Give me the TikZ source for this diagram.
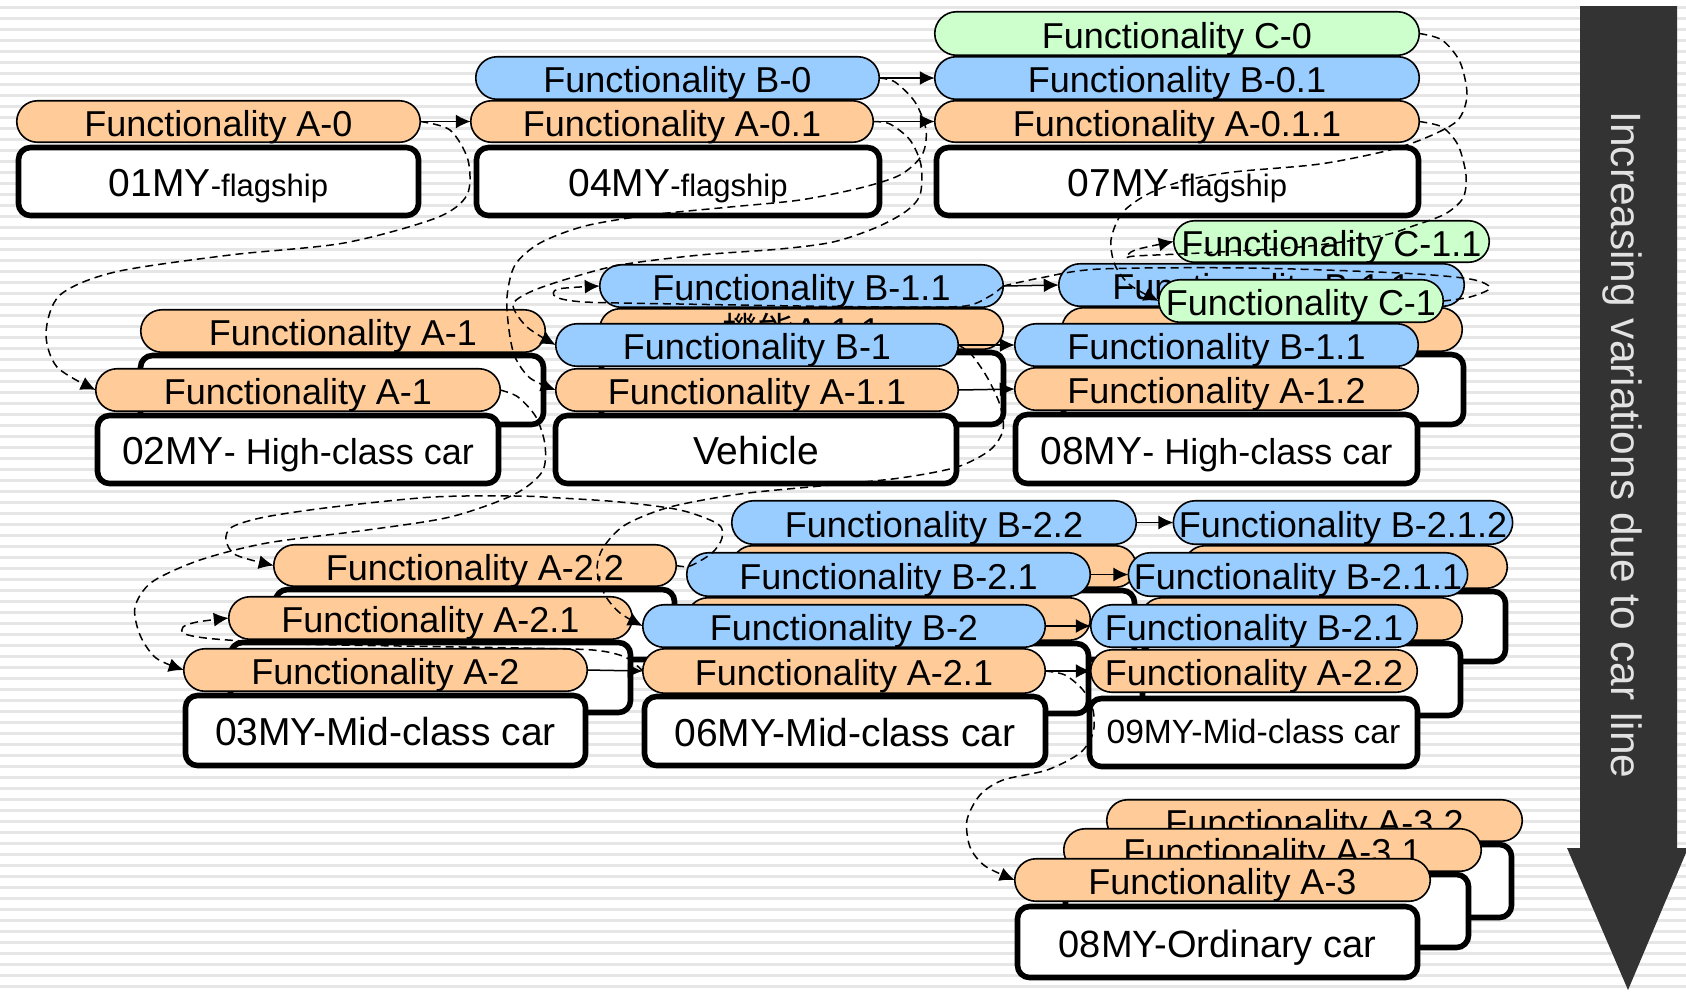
\documentclass[tikz,border=0pt]{standalone}
\usepackage{fontspec}
\setmainfont{Liberation Sans}
\newfontfamily\cjkfont{Noto Sans CJK JP}
\usetikzlibrary{shapes.misc,arrows.meta}

\definecolor{fa}{HTML}{FFCC99}
\definecolor{fb}{HTML}{99CCFF}
\definecolor{fc}{HTML}{CCFFCC}
\definecolor{stripe}{HTML}{E6E6E6}
\definecolor{trendgray}{HTML}{333333}
\definecolor{trendtext}{HTML}{E2E2E2}

\newcommand{\yeartxt}{\fontsize{19.5}{22}\selectfont}
\newcommand{\tagtxt}{\fontsize{15.5}{18}\selectfont}
\newcommand{\classtxt}{\fontsize{18}{20}\selectfont}

\tikzset{
  pillbox/.style={rounded rectangle, draw=black, line width=0.8pt, inner sep=0pt, outer sep=0pt,
    font=\fontsize{18}{20}\selectfont, text height=14.5pt, text depth=0pt},
  carbox/.style={rectangle, rounded corners=6pt, draw=black, line width=2.8pt, fill=white,
    inner sep=0pt, outer sep=0pt, font=\yeartxt, text height=15pt, text depth=0pt},
  flow/.style={line width=0.75pt, -{Latex[length=7.5pt,width=7pt]}},
  trace/.style={line width=0.75pt, dash pattern=on 4pt off 2.5pt},
  tracetip/.style={trace, -{Latex[length=7.5pt,width=7pt]}},
}

% functionality pill: name, colour, x1, y1, x2, y2, text
\newcommand{\fpill}[7]{\node[pillbox, fill=#2, minimum width={(#5-#3-1.5)*0.5pt},
  minimum height={(#6-#4-1.5)*0.5pt}] (#1) at ({(#3+#5)/2},{(#4+#6)/2}) {#7};}
% car model box: [options], name, x1, y1, x2, y2, text
\newcommand{\carbody}[7][]{\node[carbox, #1, minimum width={(#5-#3-5)*0.5pt},
  minimum height={(#6-#4-5)*0.5pt}] (#2) at ({(#3+#5)/2},{(#4+#6)/2}) {#7};}

\begin{document}
\begin{tikzpicture}[x=0.5pt, y=-0.5pt]
\useasboundingbox (0,0) rectangle (1686,993);
\fill[white] (0,0) rectangle (1686,993);
\foreach \k in {0,...,89} {\fill[stripe] (0,{6+11*\k}) rectangle (1686,{9+11*\k});}

% trend arrow
\fill[trendgray] (1580,6) -- (1677,6) -- (1677,848) -- (1688,848) -- (1628,990)
  -- (1567,848) -- (1580,848) -- cycle;
\node[rotate=-90, text=trendtext, font=\fontsize{21.2}{24}\selectfont, inner sep=0pt]
  (trend) at (1622,445) {Increasing variations due to car line};

% 01MY
\fpill{A0}{fa}{16}{100}{421}{143}{Functionality A-0}
\carbody{M01}{16}{145}{421}{218}{01MY{\tagtxt -flagship}}

% 04MY
\fpill{B0}{fb}{475}{56}{880}{100}{Functionality B-0}
\fpill{A01}{fa}{470}{100}{874}{143}{Functionality A-0.1}
\carbody{M04}{474}{145}{882}{218}{04MY{\tagtxt -flagship}}

% 07MY
\fpill{C0}{fc}{934}{11}{1420}{56}{Functionality C-0}
\fpill{B01}{fb}{934}{56}{1420}{100}{Functionality B-0.1}
\fpill{A011}{fa}{934}{100}{1420}{143}{Functionality A-0.1.1}
\carbody{M07}{934}{145}{1421}{218}{07MY{\tagtxt -flagship}}

% 02MY
\fpill{A1b}{fa}{140}{309}{546}{353}{Functionality A-1}
\carbody{M02b}{138}{353}{546}{427}{}
\fpill{A1f}{fa}{95}{368}{501}{412}{Functionality A-1}
\carbody{M02}{95}{413}{501}{486}{02MY{\classtxt - High-class car}}

% Vehicle
\fpill{B11v}{fb}{599}{264}{1004}{308}{Functionality B-1.1}
\fpill{A11b}{fa}{599}{308}{1004}{350}{{\cjkfont 機能}A-1.1}
\carbody{Vb}{599}{350}{1006}{427}{}
\fpill{B1v}{fb}{555}{323}{959}{367}{Functionality B-1}
\fpill{A11v}{fa}{555}{368}{959}{412}{Functionality A-1.1}
\carbody{V}{553}{413}{959}{486}{Vehicle}

% 08MY high-class
\fpill{B11b}{fb}{1058}{263}{1465}{307}{Functionality B-1.1}
\fpill{A12b}{fa}{1061}{307}{1463}{352}{}
\carbody{M08b}{1061}{352}{1466}{427}{}
\fpill{C11}{fc}{1173}{220}{1490}{263}{Functionality C-1.1}
\fpill{C1}{fc}{1158}{279}{1444}{323}{Functionality C-1}
\fpill{B11f}{fb}{1014}{323}{1419}{367}{Functionality B-1.1}
\fpill{A12f}{fa}{1014}{367}{1419}{411}{Functionality A-1.2}
\carbody{M08}{1013}{412}{1420}{486}{08MY{\classtxt - High-class car}}

% 03MY
\fpill{A22c}{fa}{273}{544}{677}{587}{Functionality A-2.2}
\carbody{M03c}{273}{587}{677}{662}{}
\fpill{A21c}{fa}{228}{596}{633}{640}{Functionality A-2.1}
\carbody{M03b}{228}{640}{633}{715}{}
\fpill{A2c}{fa}{183}{648}{588}{692}{Functionality A-2}
\carbody{M03}{183}{693}{588}{768}{03MY-Mid-class car}

% 06MY
\fpill{B22s}{fb}{731}{500}{1137}{545}{Functionality B-2.2}
\fpill{A2xs}{fa}{731}{545}{1137}{588}{}
\carbody{M06c}{731}{588}{1137}{662}{}
\fpill{B21s}{fb}{686}{552}{1091}{597}{Functionality B-2.1}
\fpill{A2ys}{fa}{686}{597}{1091}{641}{}
\carbody{M06b}{686}{641}{1091}{716}{}
\fpill{B2s}{fb}{642}{604}{1046}{648}{Functionality B-2}
\fpill{A21s}{fa}{642}{648}{1046}{694}{Functionality A-2.1}
\carbody{M06}{642}{694}{1048}{768}{06MY-Mid-class car}

% 09MY
\fpill{B212}{fb}{1178}{500}{1508}{545}{Functionality B-2.1.2}
\fpill{A2xn}{fa}{1183}{545}{1508}{589}{}
\carbody{M09c}{1183}{589}{1508}{664}{}
\fpill{B211}{fb}{1133}{552}{1463}{597}{Functionality B-2.1.1}
\fpill{A2yn}{fa}{1140}{597}{1463}{641}{}
\carbody{M09b}{1140}{641}{1463}{718}{}
\fpill{B21n}{fb}{1090}{604}{1418}{648}{Functionality B-2.1}
\fpill{A22n}{fa}{1090}{649}{1418}{693}{Functionality A-2.2}
\carbody[font=\fontsize{16.8}{19}\selectfont, text height=11pt]{M09}{1087}{696}{1420}{769}{09MY-Mid-class car}

% 08MY ordinary
\fpill{A32}{fa}{1106}{799}{1523}{842}{Functionality A-3.2}
\carbody{M08oc}{1106}{842}{1514}{920}{}
\fpill{A31}{fa}{1063}{828}{1482}{872}{Functionality A-3.1}
\carbody{M08ob}{1063}{872}{1471}{950}{}
\fpill{A3}{fa}{1014}{858}{1431}{902}{Functionality A-3}
\carbody[font=\fontsize{19}{22}\selectfont]{M08o}{1015}{904}{1420}{980}{08MY-Ordinary car}

% direct succession arrows
\draw[flow] (A0.east) -- (A01.west);
\draw[flow] (B0.east) -- (B01.west);
\draw[flow] (A01.east) -- (A011.west);
\draw[flow] (B11v.east) -- (B11b.west);
\draw[flow] (B1v.east) -- (B11f.west);
\draw[flow] (A11v.east) -- (A12f.west);
\draw[flow] (A2c.east) -- (A21s.west);
\draw[flow] (B2s.east) -- (B21n.west);
\draw[flow] (A21s.east) -- (A22n.west);
\draw[flow] (B21s.east) -- (B211.west);
\draw[flow] (B22s.east) -- (B212.west);

% derivation traces
\draw[tracetip] plot[smooth] coordinates {(A0.east) (450,130) (468,160) (467,195) (436,218)
  (344,243) (230,255) (115,272) (60,295) (46,333) (57,367) (A1f.west)};
\draw[tracetip] plot[smooth] coordinates {(B0.east) (895,82) (915,102) (926,130) (922,155)
  (900,175) (860,188) (800,200) (730,207) (650,215) (585,226) (540,243) (515,265) (507,297)
  (509,330) (515,357) (530,378) (A11v.west)};
\draw[tracetip] plot[smooth] coordinates {(A01.east) (890,124) (910,140) (921,165) (920,195)
  (905,212) (875,228) (833,242) (780,249) (700,255) (620,265) (567,279) (530,292) (513,305)
  (527,327) (B1v.west)};
\draw[tracetip] plot[smooth] coordinates {(B11v.east) (990,296) (965,306) (900,307)
  (800,306) (680,304) (585,302) (556,297) (558,289) (B11v.west)};
\draw[trace] plot[smooth] coordinates {(B11v.east) (1040,278) (1100,269) (1250,268)
  (1400,273) (1470,279) (1490,288) (1470,297) (C1.east)};
\draw[tracetip] plot[smooth] coordinates {(C0.east) (1442,40) (1460,62) (1467,95) (1458,120)
  (1430,136) (1390,150) (1320,164) (1233,172) (1183,181) (1148,194) (1122,213) (1111,240)
  (1115,265) (1130,285) (C1.west)};
\draw[tracetip] plot[smooth] coordinates {(A011.east) (1442,127) (1458,145) (1466,175)
  (1463,198) (1445,214) (1413,226) (1380,236) (1300,247) (1200,253) (1135,256) (1126,258)
  (1135,250) (C11.west)};
\draw[tracetip] plot[smooth] coordinates {(A1f.east) (518,397) (536,417) (545,445) (542,472)
  (513,495) (450,517) (367,530) (267,543) (200,560) (152,582) (135,607) (140,635) (156,658)
  (A2c.west)};
\draw[tracetip] plot[smooth] coordinates {(A22c.east) (690,566) (712,553) (722,538) (718,524)
  (680,510) (620,502) (560,498) (517,496) (433,497) (333,507) (265,517) (232,527) (226,540)
  (236,555) (A22c.west)};
\draw[tracetip] plot[smooth] coordinates {(B1v.east) (971,354) (987,377) (1000,405)
  (1003,430) (990,450) (957,467) (900,478) (820,486) (740,494) (670,507) (625,525) (603,548)
  (597,570) (605,595) (620,613) (B2s.west)};
\draw[tracetip] plot[smooth] coordinates {(A21s.west) (625,657) (593,650) (520,648)
  (400,646) (299,644) (215,639) (185,634) (183,627) (197,622) (A21c.west)};
\draw[tracetip] plot[smooth] coordinates {(A21s.east) (1065,675) (1083,690) (1093,710)
  (1093,733) (1080,753) (1047,770) (1003,780) (980,795) (967,820) (970,847) (985,866)
  (A3.west)};
\end{tikzpicture}
\end{document}
